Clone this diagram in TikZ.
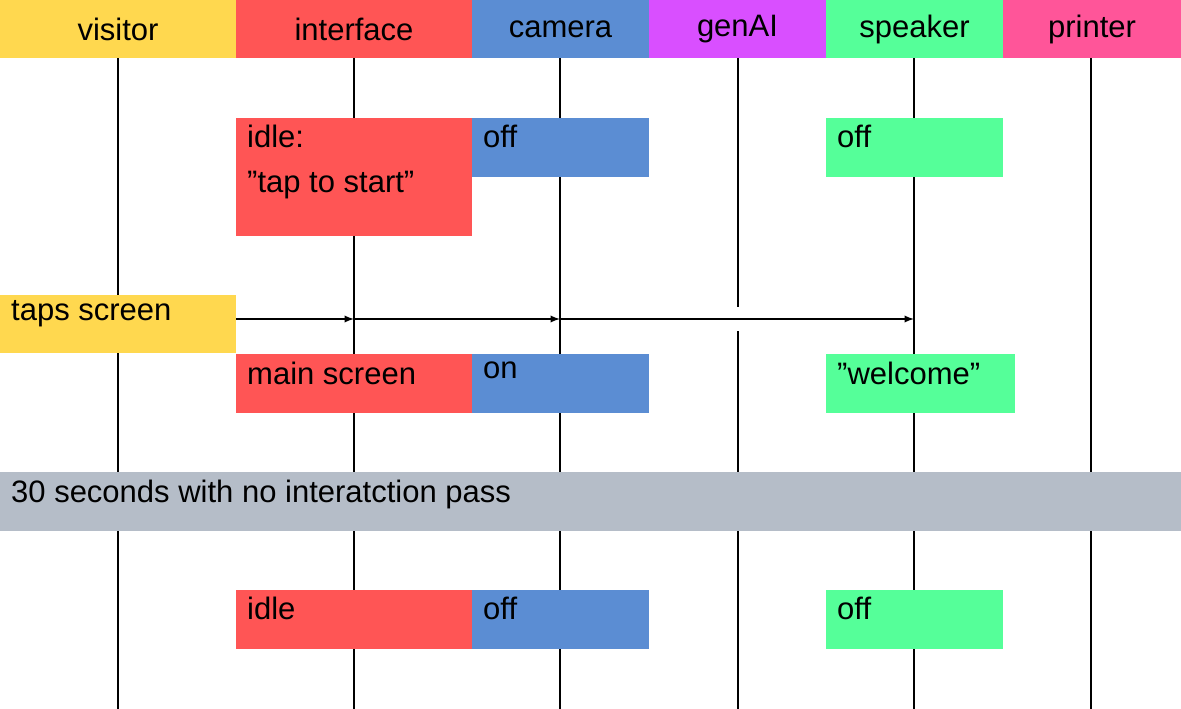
\documentclass[tikz,border=0pt]{standalone}
\usepackage{fontspec}
\setmainfont{Liberation Sans}
\begin{document}
\begin{tikzpicture}[x=1pt,y=-1pt,
  hdr/.style={font=\fontsize{31}{36}\selectfont},
  txt/.style={font=\fontsize{31}{45}\selectfont,anchor=north west,align=left,inner sep=0pt},
  life/.style={line width=2.6pt},
  arr/.style={line width=2.2pt,-{latex}}]
\definecolor{colY}{HTML}{FFD84F}\definecolor{colR}{HTML}{FF5555}\definecolor{colB}{HTML}{5B8DD3}
\definecolor{colM}{HTML}{D94FFF}\definecolor{colG}{HTML}{55FF99}\definecolor{colP}{HTML}{FF5599}
\definecolor{colGr}{HTML}{B5BDC8}
\useasboundingbox (0,0) rectangle (1181,709);
\foreach \x in {118,354,560,914,1091}{\draw[life] (\x,58) -- (\x,709);}
\draw[life] (738,58) -- (738,307); \draw[life] (738,331) -- (738,709);
\foreach \a/\b/\c/\t/\n in {0/236/colY/visitor/hv,236/472/colR/interface/hi,472/649/colB/camera/hc,649/826/colM/genAI/hg,826/1003/colG/speaker/hs,1003/1181/colP/printer/hp}{
  \fill[color=\c] (\a,0) rectangle (\b,58);
  \node[hdr] (\n) at ({(\a+\b)/2},29) {\t};}
\fill[colR] (236,118) rectangle (472,236); \node[txt] (i1) at (247,125) {idle:\\"tap to start"};
\fill[colB] (472,118) rectangle (649,177); \node[txt] (c1) at (483,125) {off};
\fill[colG] (826,118) rectangle (1003,177); \node[txt] (s1) at (837,125) {off};
\fill[colY] (0,295) rectangle (236,353); \node[txt] (t) at (11,300) {taps screen};
\coordinate (ti) at (236,319); \coordinate (ii) at (354,319); \coordinate (ci) at (560,319); \coordinate (si) at (914,319);
\draw[arr] (ti) -- (ii); \draw[arr] (ii) -- (ci); \draw[arr] (ci) -- (si);
\fill[colR] (236,354) rectangle (472,413); \node[txt] (i2) at (247,362) {main screen};
\fill[colB] (472,354) rectangle (649,413); \node[txt] (c2) at (483,362) {on};
\fill[colG] (826,354) rectangle (1015,413); \node[txt] (s2) at (837,362) {"welcome"};
\fill[colGr] (0,472) rectangle (1181,531); \node[txt] (g) at (11,480) {30 seconds with no interatction pass};
\fill[colR] (236,590) rectangle (472,649); \node[txt] (i3) at (247,597) {idle};
\fill[colB] (472,590) rectangle (649,649); \node[txt] (c3) at (483,597) {off};
\fill[colG] (826,590) rectangle (1003,649); \node[txt] (s3) at (837,597) {off};
\end{tikzpicture}
\end{document}
